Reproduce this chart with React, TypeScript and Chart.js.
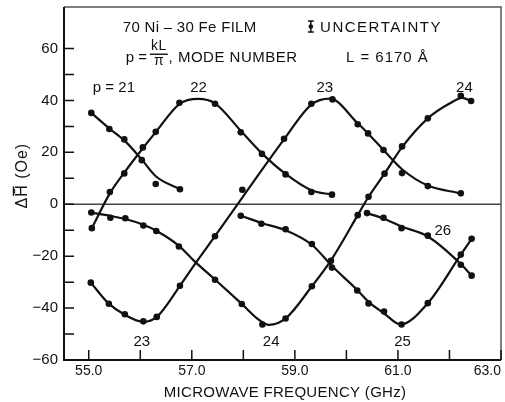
import React, { useEffect, useRef } from 'react';
import { Chart, registerables } from 'chart.js';

Chart.register(...registerables);

type Pt = [number, number];

// ---- axes ----
const xMin = 54.52;
const xMax = 63;
const yMin = -60;
const yMax = 76;
const xMajorTicks = [55, 57, 59, 61, 63];
const xMinorTicks = [56, 58, 60, 62];
const yMajorTicks = [-60, -40, -20, 0, 20, 40, 60];
const yMinorTicks = [-50, -30, -10, 10, 30, 50];

// ---- measured points (frequency GHz, ΔH Oe) ----
const mode21Dots: Pt[] = [[55.05, 35.2], [55.40, 29.0], [55.69, 25.0], [56.03, 17.0], [56.30, 7.8], [56.77, 5.8]];
const mode22Dots: Pt[] = [[55.06, -9.2], [55.41, 4.7], [55.69, 11.9], [56.05, 21.9], [56.30, 27.9], [56.76, 39.1], [57.45, 38.7], [57.95, 27.7], [58.36, 19.4], [58.82, 11.5], [59.32, 4.7], [59.72, 3.7]];
const mode23Dots: Pt[] = [[55.04, -30.2], [55.39, -38.3], [55.70, -42.4], [56.06, -45.1], [56.32, -43.4], [56.77, -31.4], [57.45, -12.3], [57.98, 5.6], [58.79, 25.2], [59.32, 38.7], [59.73, 40.4], [60.22, 30.8], [60.42, 27.3], [60.72, 20.9], [61.08, 12.0], [61.58, 7.0], [62.22, 4.2]];
const mode24Dots: Pt[] = [[55.05, -3.2], [55.42, -5.2], [55.71, -5.4], [56.06, -8.2], [56.31, -10.3], [56.75, -16.3], [57.45, -29.1], [57.97, -38.4], [58.37, -46.3], [58.82, -44.0], [59.33, -31.6], [59.70, -21.8], [60.22, -4.2], [60.43, 2.9], [60.74, 11.8], [61.08, 22.3], [61.58, 33.1], [62.22, 41.8], [62.42, 39.8]];
const mode25Dots: Pt[] = [[57.95, -4.4], [58.35, -7.5], [58.82, -9.6], [59.33, -15.3], [59.72, -24.4], [60.21, -33.2], [60.43, -38.2], [60.73, -41.3], [61.07, -46.3], [61.58, -38.1], [62.22, -19.4], [62.43, -13.3]];
const mode26Dots: Pt[] = [[60.40, -3.4], [60.72, -5.2], [61.07, -9.2], [61.58, -12.1], [62.22, -23.3], [62.43, -27.5]];

// ---- smooth fitted curves ----
const mode21Curve: Pt[] = [[55.05, 35.2], [55.40, 29.2], [55.69, 24.6], [56.03, 17.2], [56.30, 10.8], [56.77, 5.8]];
const mode22Curve: Pt[] = [[55.06, -9.2], [55.41, 4.2], [55.69, 12.2], [56.05, 21.6], [56.30, 27.8], [56.76, 38.6], [57.12, 40.6], [57.45, 38.9], [57.95, 28.3], [58.36, 19.6], [58.82, 11.7], [59.32, 5.4], [59.72, 3.7]];
const mode23Curve: Pt[] = [[55.04, -30.2], [55.39, -38.3], [55.70, -42.6], [56.06, -45.3], [56.32, -43.4], [56.77, -31.4], [57.08, -22.5], [57.45, -12.3], [57.98, 2.6], [58.79, 25.0], [59.32, 38.4], [59.68, 40.7], [60.22, 31.2], [60.42, 27.3], [60.72, 20.9], [61.08, 13.5], [61.58, 7.2], [62.22, 4.2]];
const mode24Curve: Pt[] = [[55.05, -3.2], [55.42, -4.5], [55.71, -5.7], [56.06, -7.9], [56.31, -10.2], [56.75, -16.0], [57.06, -22.1], [57.45, -29.0], [57.97, -38.4], [58.30, -44.5], [58.50, -46.5], [58.82, -44.0], [59.33, -31.6], [59.70, -21.6], [60.22, -4.2], [60.43, 2.9], [60.74, 11.8], [61.08, 22.0], [61.58, 33.1], [62.00, 38.8], [62.25, 41.0], [62.42, 39.8]];
const mode25Curve: Pt[] = [[57.95, -4.4], [58.35, -7.2], [58.82, -10.0], [59.33, -15.6], [59.72, -23.8], [60.21, -33.0], [60.43, -37.6], [60.73, -42.0], [61.05, -46.3], [61.58, -38.1], [62.22, -19.4], [62.43, -13.3]];
const mode26Curve: Pt[] = [[60.40, -3.4], [60.72, -5.5], [61.07, -8.6], [61.58, -12.4], [62.22, -23.0], [62.43, -27.5]];

const allDots = [mode21Dots, mode22Dots, mode23Dots, mode24Dots, mode25Dots, mode26Dots];
const allCurves = [mode21Curve, mode22Curve, mode23Curve, mode24Curve, mode25Curve, mode26Curve];

const FONT = '"Liberation Sans", Arial, Helvetica, sans-serif';
const INK = '#111';

const toXY = (pts: Pt[]) => pts.map(([x, y]) => ({ x, y }));

export default function App() {
  const ref = useRef<HTMLCanvasElement>(null);

  useEffect(() => {
    document.body.style.margin = '0';
    const canvas = ref.current;
    if (!canvas) return;

    const decor = {
      id: 'decor',
      beforeDatasetsDraw(chart: any) {
        const { ctx, chartArea: a, scales } = chart;
        const y0 = scales.y.getPixelForValue(0);
        ctx.save();
        ctx.strokeStyle = '#444';
        ctx.lineWidth = 1.5;
        ctx.beginPath();
        ctx.moveTo(a.left, y0);
        ctx.lineTo(a.right, y0);
        ctx.stroke();
        ctx.restore();
      },
      afterDraw(chart: any) {
        const { ctx, chartArea: a, scales } = chart;
        const sx = (v: number) => scales.x.getPixelForValue(v);
        const sy = (v: number) => scales.y.getPixelForValue(v);
        ctx.save();
        // frame
        ctx.strokeStyle = '#555';
        ctx.lineWidth = 1.5;
        ctx.beginPath();
        ctx.moveTo(a.left, a.top);
        ctx.lineTo(a.right, a.top);
        ctx.lineTo(a.right, a.bottom);
        ctx.stroke();
        ctx.strokeStyle = INK;
        ctx.lineWidth = 2;
        ctx.beginPath();
        ctx.moveTo(a.left, a.top);
        ctx.lineTo(a.left, a.bottom);
        ctx.lineTo(a.right, a.bottom);
        ctx.stroke();
        // inward ticks
        ctx.lineWidth = 1.5;
        ctx.beginPath();
        [...xMajorTicks, ...xMinorTicks].forEach((v) => {
          const px = sx(v);
          ctx.moveTo(px, a.bottom);
          ctx.lineTo(px, a.bottom - 10);
        });
        [...yMajorTicks, ...yMinorTicks].forEach((v) => {
          const py = sy(v);
          ctx.moveTo(a.left, py);
          ctx.lineTo(a.left + 10, py);
        });
        ctx.stroke();

        const txt = (s: string, px: number, py: number, align: CanvasTextAlign, size = 15, spacing = 0) => {
          ctx.font = `${size}px ${FONT}`;
          (ctx as any).letterSpacing = `${spacing}px`;
          ctx.textAlign = align;
          ctx.textBaseline = 'alphabetic';
          ctx.fillStyle = INK;
          ctx.fillText(s, px, py);
        };

        // header annotations
        txt('70 Ni – 30 Fe FILM', sx(55.66), sy(66.3), 'left', 15, 0.3);
        txt('UNCERTAINTY', sx(59.49), sy(66.3), 'left', 15, 1.5);
        // uncertainty glyph
        const gx = sx(59.31);
        const gy = sy(68.5);
        ctx.lineWidth = 1.5;
        ctx.beginPath();
        ctx.moveTo(gx, gy - 5.5);
        ctx.lineTo(gx, gy + 5.5);
        ctx.moveTo(gx - 3, gy - 5.5);
        ctx.lineTo(gx + 3, gy - 5.5);
        ctx.moveTo(gx - 3, gy + 5.5);
        ctx.lineTo(gx + 3, gy + 5.5);
        ctx.stroke();
        ctx.beginPath();
        ctx.arc(gx, gy, 2.3, 0, Math.PI * 2);
        ctx.fill();

        txt('p =', sx(55.72), sy(54.7), 'left', 15);
        const fx = sx(56.36);
        txt('kL', fx, sy(59.3), 'center', 14, 0.5);
        txt('π', fx, sy(53.8), 'center', 14);
        ctx.lineWidth = 1.4;
        ctx.beginPath();
        ctx.moveTo(fx - 9, sy(57.8));
        ctx.lineTo(fx + 9, sy(57.8));
        ctx.stroke();
        txt(', MODE NUMBER', sx(56.55), sy(54.7), 'left', 15, 0.5);
        txt('L = 6170 Å', sx(59.99), sy(54.7), 'left', 15, 1);

        // mode numbers
        txt('p = 21', sx(55.08), sy(43.2), 'left');
        txt('22', sx(57.13), sy(43.2), 'center');
        txt('23', sx(59.58), sy(43.2), 'center');
        txt('24', sx(62.29), sy(43.2), 'center');
        txt('26', sx(61.87), sy(-11.8), 'center');
        txt('23', sx(56.03), sy(-54.5), 'center');
        txt('24', sx(58.54), sy(-54.5), 'center');
        txt('25', sx(61.09), sy(-54.5), 'center');

        // axis titles
        txt('MICROWAVE FREQUENCY (GHz)', sx(58.81), a.bottom + 37, 'center', 15, 0.3);
        ctx.translate(23, sy(11));
        ctx.rotate(-Math.PI / 2);
        ctx.font = `16px ${FONT}`;
        (ctx as any).letterSpacing = '1px';
        ctx.textAlign = 'left';
        ctx.textBaseline = 'middle';
        const yTitle = 'ΔH\u0304 (Oe)';
        const fullW = ctx.measureText(yTitle).width;
        const deltaW = ctx.measureText('Δ').width;
        const hW = ctx.measureText('H').width;
        const startX = -fullW / 2;
        ctx.fillText(yTitle, startX, 0);
        // bar over the H (drawn explicitly in case the combining macron is not rendered)
        ctx.lineWidth = 1.4;
        ctx.beginPath();
        ctx.moveTo(startX + deltaW + 1, -9.5);
        ctx.lineTo(startX + deltaW + hW - 2, -9.5);
        ctx.stroke();
        ctx.restore();
      },
    };

    const curveSets = allCurves.map((c) => ({
      data: toXY(c),
      showLine: true,
      borderColor: INK,
      borderWidth: 2.2,
      pointRadius: 0,
      cubicInterpolationMode: 'monotone' as const,
      fill: false,
    }));
    const dotSets = allDots.map((d) => ({
      data: toXY(d),
      showLine: false,
      pointRadius: 3.3,
      pointBackgroundColor: INK,
      pointBorderWidth: 0,
      pointBorderColor: INK,
    }));

    const chart = new Chart(canvas, {
      type: 'scatter',
      data: { datasets: [...curveSets, ...dotSets] as any },
      plugins: [decor],
      options: {
        animation: false,
        responsive: false,
        layout: { padding: { top: 7, right: 2, left: 0, bottom: 0 } },
        plugins: { legend: { display: false }, tooltip: { enabled: false } },
        scales: {
          x: {
            type: 'linear',
            min: xMin,
            max: xMax,
            grid: { display: false, drawTicks: false },
            border: { display: false },
            afterBuildTicks: (scale: any) => {
              scale.ticks = [xMin, ...xMajorTicks, ...xMinorTicks]
                .sort((p, q) => p - q)
                .map((value) => ({ value }));
            },
            afterFit: (scale: any) => {
              scale.height = 42;
              scale.paddingLeft = 0;
              scale.paddingRight = 0;
            },
            ticks: {
              autoSkip: false,
              maxRotation: 0,
              align: 'inner',
              padding: 3,
              color: INK,
              font: { family: FONT, size: 14 },
              callback: (v: any) => (xMajorTicks.includes(Number(v)) ? Number(v).toFixed(1) : ''),
            },
          },
          y: {
            type: 'linear',
            min: yMin,
            max: yMax,
            grid: { display: false, drawTicks: false },
            border: { display: false },
            afterBuildTicks: (scale: any) => {
              scale.ticks = [...yMajorTicks, ...yMinorTicks]
                .sort((p, q) => p - q)
                .map((value) => ({ value }));
            },
            afterFit: (scale: any) => {
              scale.width = 64;
              scale.paddingTop = 0;
              scale.paddingBottom = 0;
            },
            ticks: {
              autoSkip: false,
              padding: 6,
              color: INK,
              font: { family: FONT, size: 15 },
              callback: (v: any) => {
                const n = Number(v);
                if (!yMajorTicks.includes(n)) return '';
                return n < 0 ? `\u2212${Math.abs(n)}` : String(n);
              },
            },
          },
        },
      } as any,
    });
    return () => chart.destroy();
  }, []);

  return (
    <div style={{ width: 505, height: 402 }}>
      <canvas ref={ref} width={505} height={402} style={{ display: 'block' }} />
    </div>
  );
}
